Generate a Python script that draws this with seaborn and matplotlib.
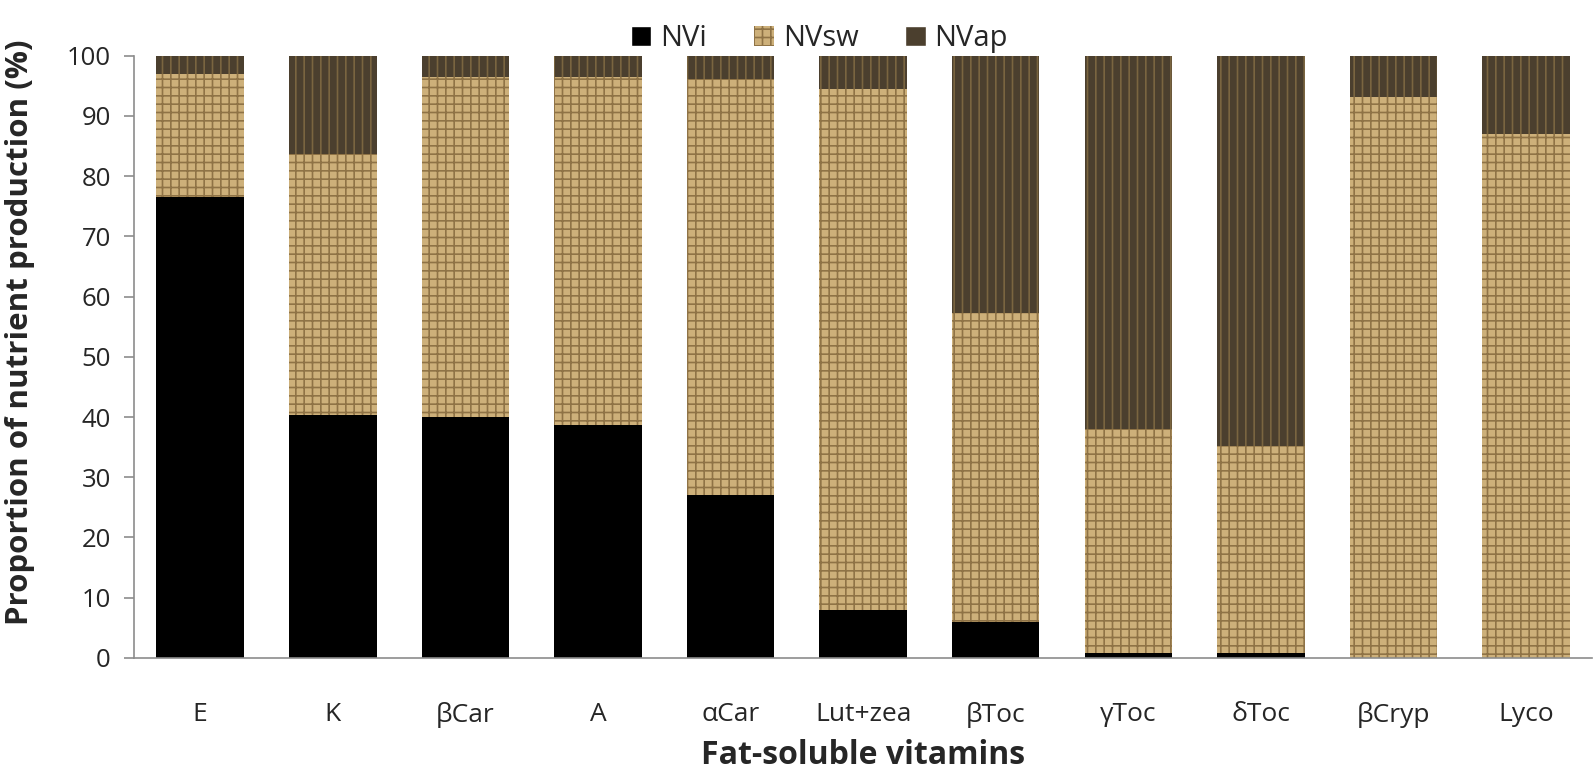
import seaborn as sns
import matplotlib.pyplot as plt
import pandas as pd
from matplotlib.patches import Patch

# valores (%)
vitaminas = ['E', 'K', 'βCar', 'A', 'αCar', 'Lut+zea', 'βToc', 'γToc', 'δToc', 'βCryp', 'Lyco']
nvi = [76.5, 40.3, 40.0, 38.6, 27.0, 8.0, 6.0, 0.8, 0.8, 0.0, 0.0]
nvsw = [20.5, 43.4, 56.5, 57.9, 69.2, 86.5, 51.2, 37.2, 34.4, 93.2, 87.0]
nvap = [3.0, 16.3, 3.5, 3.5, 3.8, 5.5, 42.8, 62.0, 64.8, 6.8, 13.0]

df = pd.DataFrame({'vit': vitaminas, 'NVi': nvi, 'NVsw': nvsw, 'NVap': nvap})
df['ate_sw'] = df['NVi'] + df['NVsw']
df['total'] = df['ate_sw'] + df['NVap']

sns.set_style('white')
plt.rcParams['font.family'] = ['Open Sans', 'DejaVu Sans']
plt.rcParams['hatch.linewidth'] = 1.2

fig, ax = plt.subplots(figsize=(15.94, 7.74), dpi=100)
fig.subplots_adjust(left=0.084, right=0.999, top=0.928, bottom=0.15)

cor_ap = '#4b3f2e'
cor_sw = '#cdb07a'
cor_i = '#000000'

sns.barplot(data=df, x='vit', y='total', color=cor_ap, width=0.66, ax=ax,
            saturation=1, edgecolor='#7a6540', linewidth=0, hatch='||')
sns.barplot(data=df, x='vit', y='ate_sw', color=cor_sw, width=0.66, ax=ax,
            saturation=1, edgecolor='#8f7346', linewidth=0, hatch='++')
sns.barplot(data=df, x='vit', y='NVi', color=cor_i, width=0.66, ax=ax,
            saturation=1, linewidth=0)

ax.set_ylim(0, 100)
ax.set_xlim(-0.5, len(vitaminas) - 0.5)
ax.set_yticks(range(0, 101, 10))
ax.set_xticks([i + 0.5 for i in range(-1, len(vitaminas))], minor=True)
ax.tick_params(axis='x', which='major', length=0, labelsize=19, pad=32)
ax.tick_params(axis='x', which='minor', length=8, width=1.2, color='#8c8c8c', direction='out')
ax.tick_params(axis='y', length=7.5, width=1.2, color='#8c8c8c', direction='out', labelsize=18.5, left=True, pad=9)

for lado in ['top', 'right']:
    ax.spines[lado].set_visible(False)
for lado in ['left', 'bottom']:
    ax.spines[lado].set_color('#8c8c8c')
    ax.spines[lado].set_linewidth(1.2)

ax.set_xlabel('Fat-soluble vitamins', fontsize=23, fontweight='bold', labelpad=8)
ax.set_ylabel('Proportion of nutrient production (%)', fontsize=22.5, fontweight='bold')
ax.yaxis.set_label_coords(-0.068, 0.54)

handles = [Patch(facecolor=cor_i, label='NVi'),
           Patch(facecolor=cor_sw, edgecolor='#8f7346', linewidth=0, hatch='++', label='NVsw'),
           Patch(facecolor=cor_ap, label='NVap')]
ax.legend(handles=handles, loc='lower center', bbox_to_anchor=(0.47, 0.985), ncol=3,
          frameon=False, fontsize=21, handlelength=0.7, handleheight=0.7,
          handletextpad=0.3, columnspacing=1.6, borderaxespad=0)

plt.savefig('out.png', dpi=100)
